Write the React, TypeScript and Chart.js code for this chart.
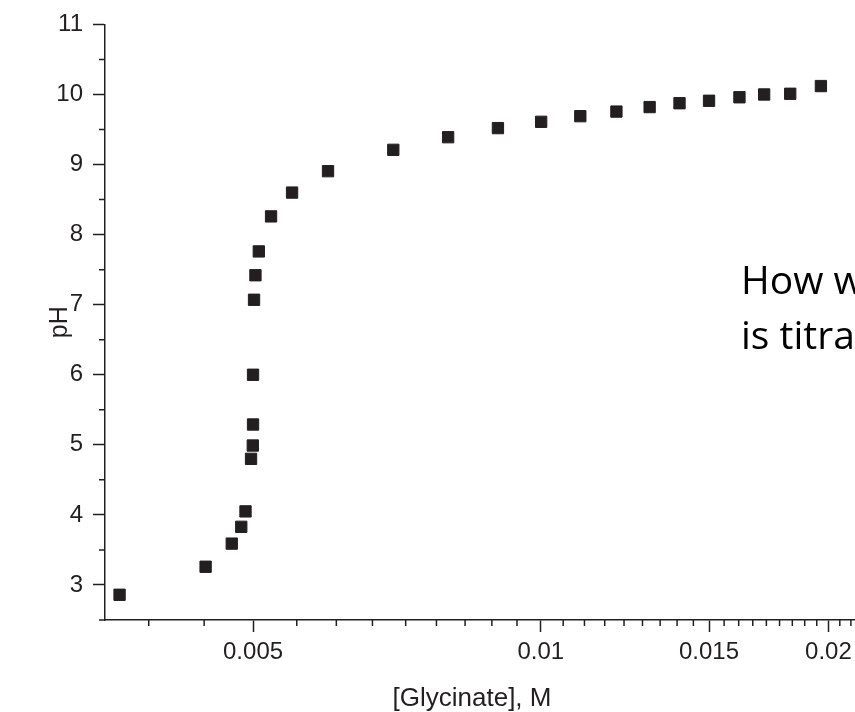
import React, { useEffect, useRef } from "react";
import { Chart, registerables } from "chart.js";

Chart.register(...registerables);

// ---- data ----
const GLYCINATE_M = [
  0.003625, 0.00446, 0.00475, 0.00486, 0.00491, 0.004976, 0.004997, 0.005,
  0.005, 0.005012, 0.005029, 0.00507, 0.005222, 0.005493, 0.00599, 0.00701,
  0.0080, 0.00902, 0.01001, 0.0110, 0.0120, 0.0130, 0.01397, 0.0150,
  0.01614, 0.01713, 0.01824, 0.01964,
];
const PH_VALUES = [
  2.86, 3.26, 3.59, 3.83, 4.05, 4.8, 4.99, 5.29,
  6.0, 7.07, 7.42, 7.76, 8.26, 8.6, 8.905, 9.21,
  9.39, 9.52, 9.61, 9.69, 9.756, 9.82, 9.875, 9.91,
  9.96, 10.0, 10.01, 10.12,
];
const X_MAJOR_TICKS = [0.005, 0.01, 0.015, 0.02];
const X_MINOR_STEP = 0.01 / 18;
const Y_MAJOR_TICKS = [3, 4, 5, 6, 7, 8, 9, 10, 11];
const Y_MINOR_TICKS = [3.5, 4.5, 5.5, 6.5, 7.5, 8.5, 9.5, 10.5];
const X_TITLE = "[Glycinate], M";
const Y_TITLE = "pH";
const NOTE_LINES = ["How w", "is titra"];

const INK = "#231f20";
const FONT = '"Liberation Sans", Arial, Helvetica, sans-serif';

const minorTicksPlugin = {
  id: "minorTicks",
  afterDraw(chart: any) {
    const ctx = chart.ctx;
    const xs = chart.scales.x;
    const ys = chart.scales.y;
    const { left, bottom } = chart.chartArea;
    ctx.save();
    ctx.strokeStyle = INK;
    ctx.lineWidth = 1.5;
    ctx.beginPath();
    const kMin = Math.ceil(xs.min / X_MINOR_STEP - 1e-9);
    const kMax = Math.floor(xs.max / X_MINOR_STEP + 1e-9);
    for (let k = kMin; k <= kMax; k++) {
      if (k % 9 === 0) continue;
      const px = xs.getPixelForValue(k * X_MINOR_STEP);
      ctx.moveTo(px, bottom);
      ctx.lineTo(px, bottom + 6);
    }
    for (const v of Y_MINOR_TICKS) {
      const py = ys.getPixelForValue(v);
      ctx.moveTo(left, py);
      ctx.lineTo(left - 6, py);
    }
    // small overhang of the x axis line past the y axis
    ctx.moveTo(left - 6, bottom);
    ctx.lineTo(left, bottom);
    ctx.stroke();
    // x axis title
    ctx.fillStyle = INK;
    ctx.font = `26px ${FONT}`;
    ctx.textAlign = "center";
    ctx.textBaseline = "alphabetic";
    ctx.fillText(X_TITLE, 472, 706);
    ctx.restore();
  },
};

export default function App() {
  const canvasRef = useRef<HTMLCanvasElement | null>(null);

  useEffect(() => {
    const canvas = canvasRef.current;
    if (!canvas) return;
    const chart = new Chart(canvas, {
      type: "scatter",
      data: {
        datasets: [
          {
            data: GLYCINATE_M.map((x, i) => ({ x, y: PH_VALUES[i] })),
            pointStyle: "rect",
            pointRadius: 8,
            backgroundColor: INK,
            borderColor: INK,
            borderWidth: 1,
            showLine: false,
          },
        ],
      },
      options: {
        responsive: false,
        animation: false,
        devicePixelRatio: 1,
        events: [],
        layout: { padding: { left: 0, top: 20, right: 32, bottom: 0 } },
        plugins: { legend: { display: false }, tooltip: { enabled: false } },
        scales: {
          x: {
            type: "logarithmic",
            min: 0.0035,
            max: 0.022,
            afterBuildTicks: (s: any) => {
              s.ticks = X_MAJOR_TICKS.map((v) => ({ value: v }));
            },
            afterFit: (s: any) => {
              s.height = 92;
            },
            ticks: {
              autoSkip: false,
              maxRotation: 0,
              minRotation: 0,
              padding: 6,
              color: INK,
              font: { family: FONT, size: 24 },
              callback: (v: any) => String(v),
            },
            grid: {
              display: true,
              drawOnChartArea: false,
              drawTicks: true,
              tickLength: 12,
              tickWidth: 1.5,
              tickColor: INK,
              color: INK,
            },
            border: { display: true, color: INK, width: 1.5 },
          },
          y: {
            type: "linear",
            min: 2.5,
            max: 11,
            afterBuildTicks: (s: any) => {
              s.ticks = Y_MAJOR_TICKS.map((v) => ({ value: v }));
            },
            afterFit: (s: any) => {
              s.width = 105;
            },
            ticks: {
              stepSize: 1,
              padding: 10,
              color: INK,
              font: { family: FONT, size: 24 },
            },
            grid: {
              display: true,
              drawOnChartArea: false,
              drawTicks: true,
              tickLength: 12,
              tickWidth: 1.5,
              tickColor: INK,
              color: INK,
            },
            border: { display: true, color: INK, width: 1.5 },
            title: {
              display: true,
              text: Y_TITLE,
              color: INK,
              font: { family: FONT, size: 25 },
              padding: { top: 45, bottom: 0 },
            },
          },
        },
      },
      plugins: [minorTicksPlugin],
    } as any);
    return () => chart.destroy();
  }, []);

  return (
    <div
      style={{
        position: "absolute",
        left: 0,
        top: 0,
        width: 855,
        height: 712,
        overflow: "hidden",
        background: "#ffffff",
      }}
    >
      <canvas
        ref={canvasRef}
        width={900}
        height={712}
        style={{ position: "absolute", left: 0, top: 0, width: 900, height: 712 }}
      />
      <div
        style={{
          position: "absolute",
          left: 741,
          top: 251,
          fontFamily: '"Open Sans", "Noto Sans", sans-serif',
          fontSize: 39,
          lineHeight: "55px",
          color: "#000000",
          whiteSpace: "nowrap",
        }}
      >
        {NOTE_LINES.map((t, i) => (
          <div key={i}>{t}</div>
        ))}
      </div>
    </div>
  );
}
